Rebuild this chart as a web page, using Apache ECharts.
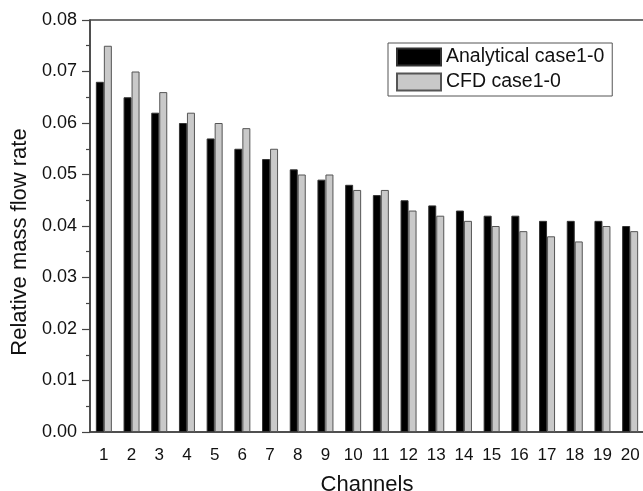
<!DOCTYPE html>
<html>
<head>
<meta charset="utf-8">
<title>Relative mass flow rate</title>
<script src="https://cdn.jsdelivr.net/npm/echarts@6/dist/echarts.min.js"></script>
<style>
    html, body { margin: 0; padding: 0; background: #fff; }
    #chart { width: 643px; height: 491px; }
</style>
</head>
<body>
<div id="chart"></div>
<script>
    // channel numbers along the x axis
    var channels = ['1', '2', '3', '4', '5', '6', '7', '8', '9', '10',
        '11', '12', '13', '14', '15', '16', '17', '18', '19', '20'];

    // values
    var analytical = [0.068, 0.065, 0.062, 0.060, 0.057, 0.055, 0.053, 0.051, 0.049, 0.048,
        0.046, 0.045, 0.044, 0.043, 0.042, 0.042, 0.041, 0.041, 0.041, 0.040];
    var cfd = [0.075, 0.070, 0.066, 0.062, 0.060, 0.059, 0.055, 0.050, 0.050, 0.047,
        0.047, 0.043, 0.042, 0.041, 0.040, 0.039, 0.038, 0.037, 0.040, 0.039];

    var font = "'Liberation Sans', Arial, Helvetica, sans-serif";
    var axisColor = '#444';

    echarts.init(document.getElementById('chart')).setOption({
        backgroundColor: '#fff',
        animation: false,
        textStyle: { fontFamily: font },
        grid: {
            left: 90,
            top: 20,
            right: -1,
            bottom: 59,
            outerBoundsMode: 'none',
            show: true,
            borderColor: axisColor,
            borderWidth: 1.5
        },
        legend: {
            orient: 'vertical',
            left: 388,
            top: 43,
            padding: [4, 8],
            borderColor: '#555',
            borderWidth: 1,
            itemWidth: 44,
            itemHeight: 17,
            itemGap: 5,
            icon: 'rect',
            textStyle: { fontSize: 19.5, color: '#111', fontFamily: font },
            data: ['Analytical case1-0', 'CFD case1-0']
        },
        xAxis: {
            type: 'category',
            data: channels,
            name: 'Channels',
            nameLocation: 'middle',
            nameGap: 42,
            nameTextStyle: { fontSize: 22, color: '#111', fontFamily: font },
            axisLine: { lineStyle: { color: axisColor, width: 1.5 } },
            axisTick: { alignWithLabel: true, length: 8, lineStyle: { color: axisColor, width: 1.2 } },
            axisLabel: { fontSize: 17, color: '#111', margin: 15, interval: 0 },
            splitLine: { show: false }
        },
        yAxis: {
            type: 'value',
            min: 0,
            max: 0.08,
            interval: 0.01,
            name: 'Relative mass flow rate',
            nameLocation: 'middle',
            nameGap: 54,
            // label sits a bit below the middle of the axis in the figure
            nameTextStyle: { fontSize: 22, color: '#111', fontFamily: font, padding: [0, 32, 0, 0] },
            axisLine: { show: true, lineStyle: { color: axisColor, width: 1.5 } },
            axisTick: { show: true, length: 8, lineStyle: { color: axisColor, width: 1.2 } },
            minorTick: { show: true, splitNumber: 2, length: 4, lineStyle: { color: axisColor, width: 1.2 } },
            axisLabel: {
                fontSize: 18,
                color: '#111',
                margin: 13,
                formatter: function(v) { return v.toFixed(2); }
            },
            splitLine: { show: false }
        },
        series: [{
            name: 'Analytical case1-0',
            type: 'bar',
            barWidth: 8,
            barGap: 0,
            itemStyle: { color: '#000', borderColor: '#333', borderWidth: 1 },
            data: analytical
        }, {
            name: 'CFD case1-0',
            type: 'bar',
            barWidth: 8,
            barGap: 0,
            itemStyle: { color: '#c9c9c9', borderColor: '#555', borderWidth: 1 },
            data: cfd
        }]
    });
</script>
</body>
</html>
